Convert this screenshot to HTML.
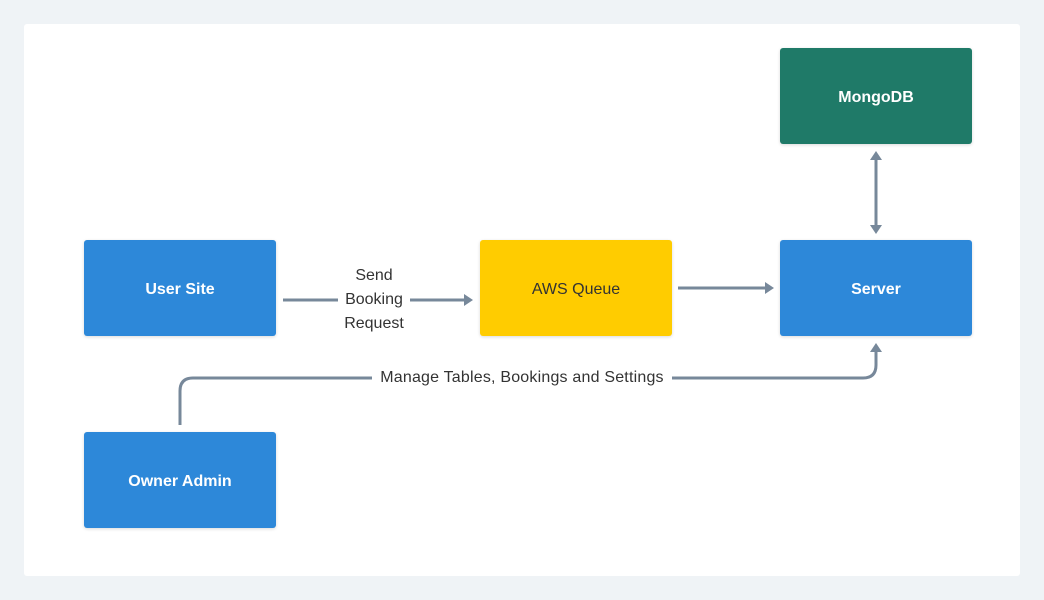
<!DOCTYPE html>
<html><head><style>
body{margin:0;width:1044px;height:600px;background:#eff3f6;font-family:"Liberation Sans",sans-serif;position:relative;overflow:hidden}
.card{position:absolute;left:24px;top:24px;width:996px;height:552px;background:#fff;border-radius:3px}
.b{position:absolute;width:192px;height:96px;border-radius:3px;display:flex;align-items:center;justify-content:center;font-weight:bold;font-size:16px;color:#fff;box-shadow:0 1px 3px rgba(0,0,0,.15);padding-top:3px;box-sizing:border-box}
.t{position:absolute;font-size:16px;color:#333;text-align:center;background:#fff}
</style></head><body>
<div class="card"></div>
<svg width="1044" height="600" style="position:absolute;left:0;top:0" fill="none" stroke="#77889a" stroke-width="3">
<line x1="283" y1="300" x2="464" y2="300"/>
<polygon points="473,300 464,294 464,306" fill="#77889a" stroke="none"/>
<line x1="678" y1="288" x2="765" y2="288"/>
<polygon points="774,288 765,282 765,294" fill="#77889a" stroke="none"/>
<line x1="876" y1="160" x2="876" y2="225"/>
<polygon points="876,151 870,160 882,160" fill="#77889a" stroke="none"/>
<polygon points="876,234 870,225 882,225" fill="#77889a" stroke="none"/>
<path d="M180 425 V391 Q180 378 193 378 H863 Q876 378 876 365 V352"/>
<polygon points="876,343 870,352 882,352" fill="#77889a" stroke="none"/>
</svg>
<div class="t" style="left:338px;top:264px;width:72px;line-height:24px">Send<br>Booking<br>Request</div>
<div class="t" style="left:372px;top:368px;width:300px;line-height:20px;letter-spacing:0.2px">Manage Tables, Bookings and Settings</div>
<div class="b" style="left:780px;top:48px;background:#1f7a68">MongoDB</div>
<div class="b" style="left:84px;top:240px;background:#2d88d9">User Site</div>
<div class="b" style="left:480px;top:240px;background:#ffcc00;color:#333;font-weight:normal">AWS Queue</div>
<div class="b" style="left:780px;top:240px;background:#2d88d9">Server</div>
<div class="b" style="left:84px;top:432px;background:#2d88d9">Owner Admin</div>
</body></html>
